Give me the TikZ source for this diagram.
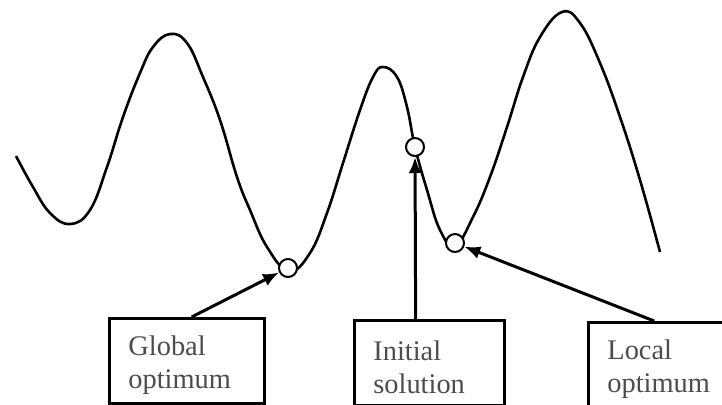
\documentclass[tikz,border=0pt]{standalone}
\usepackage{fontspec}
\setmainfont{Liberation Serif}
\usetikzlibrary{arrows.meta,calc}

\begin{document}
\begin{tikzpicture}[
  x=0.5pt, y=-0.5pt, >={Latex[length=8pt,width=6.5pt]},
  every node/.style={font=\fontsize{14.2}{16.4}\selectfont},
  optbox/.style={draw, line width=1.4pt, anchor=north west, align=left,
                 inner xsep=9.5pt, inner ysep=0pt, minimum height=42.5pt, text=black!70,
                 execute at begin node=\rule{0pt}{14pt}},
  spot/.style={draw, circle, fill=white, line width=1pt, minimum size=9pt, inner sep=0pt}
]
  \path[use as bounding box, clip] (0,0) rectangle (722,404);
  % the landscape
  \draw[line width=1.3pt, line join=round] plot[smooth, tension=0.7] coordinates {
    (16,156) (33,187) (50,213) (70,224) (90,210) (107,167) (123,117) (140,73)
    (153,47) (170,34) (187,43) (203,77) (220,120) (237,177) (250,210) (267,247)
    (289,271) (310,253) (327,213) (343,163) (360,110) (373,77) (383,67) (397,77)
    (407,107) (415,147) (427,190) (440,230) (455,246) (473,217) (490,177) (507,127)
    (523,77) (540,37) (562,12) (580,23) (600,63) (620,117) (640,180) (660,252)};
  % marked points
  \node[spot] (glob) at (288,268) {};
  \node[spot] (init) at (415,147) {};
  \node[spot] (loc) at (455,243) {};
  % labels
  \node[optbox, text width=58.5pt] (gbox) at (108,317) {Global\\optimum};
  \node[optbox, text width=56pt] (ibox) at (353,319) {Initial\\solution};
  \node[optbox, text width=56pt] (lbox) at (587,321) {Local\\optimum};
  \draw[->, line width=1.5pt] ($(gbox.north west)!0.53!(gbox.north east)$) -- (glob);
  \draw[->, line width=1.5pt] ($(ibox.north west)!0.41!(ibox.north east)$) -- (init);
  \draw[->, line width=1.5pt] ($(lbox.north west)!0.44!(lbox.north east)$) -- (loc);
\end{tikzpicture}
\end{document}
